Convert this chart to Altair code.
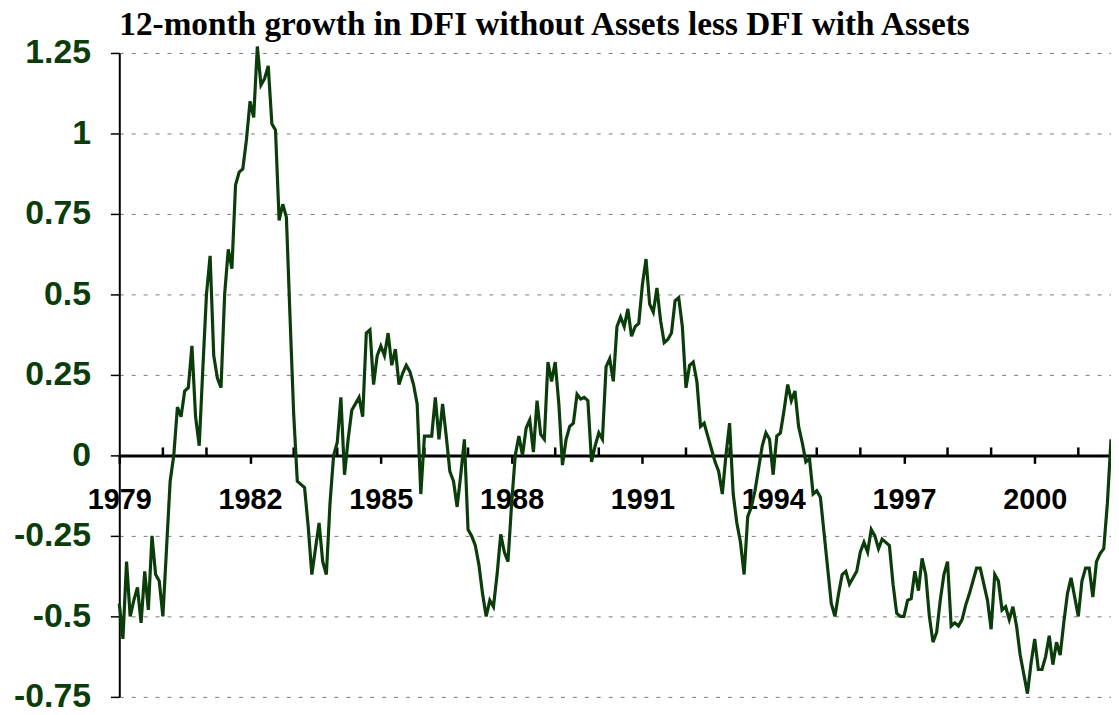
import altair as alt
import pandas as pd

# Monthly values (12-month growth difference)
y1979 = [-0.46, -0.57, -0.33, -0.50, -0.45, -0.41, -0.52, -0.36, -0.48, -0.25, -0.37, -0.39]
y1980 = [-0.50, -0.29, -0.08, 0.00, 0.15, 0.12, 0.20, 0.21, 0.34, 0.12, 0.03, 0.27]
y1981 = [0.50, 0.62, 0.31, 0.24, 0.21, 0.50, 0.64, 0.58, 0.84, 0.88, 0.89, 0.98]
y1982 = [1.10, 1.05, 1.27, 1.15, 1.17, 1.21, 1.03, 1.01, 0.73, 0.78, 0.74, 0.43]
y1983 = [0.13, -0.08, -0.09, -0.10, -0.22, -0.37, -0.29, -0.21, -0.33, -0.37, -0.15, 0.00]
y1984 = [0.04, 0.18, -0.06, 0.05, 0.14, 0.16, 0.18, 0.12, 0.38, 0.39, 0.22, 0.31]
y1985 = [0.34, 0.31, 0.38, 0.28, 0.33, 0.22, 0.255, 0.28, 0.26, 0.22, 0.16, -0.12]
y1986 = [0.06, 0.06, 0.06, 0.18, 0.05, 0.16, 0.06, -0.05, -0.08, -0.16, -0.06, 0.05]
y1987 = [-0.23, -0.25, -0.28, -0.34, -0.43, -0.50, -0.45, -0.47, -0.37, -0.245, -0.30, -0.33]
y1988 = [-0.15, 0.00, 0.06, 0.00, 0.085, 0.11, 0.01, 0.17, 0.065, 0.05, 0.29, 0.23]
y1989 = [0.29, 0.16, -0.03, 0.05, 0.09, 0.10, 0.19, 0.175, 0.18, 0.17, -0.02, 0.03]
y1990 = [0.07, 0.05, 0.275, 0.30, 0.23, 0.40, 0.43, 0.40, 0.455, 0.37, 0.40, 0.41]
y1991 = [0.53, 0.61, 0.47, 0.445, 0.52, 0.42, 0.35, 0.36, 0.38, 0.48, 0.49, 0.40]
y1992 = [0.21, 0.28, 0.29, 0.23, 0.09, 0.10, 0.06, 0.02, -0.02, -0.05, -0.12, 0.00]
y1993 = [0.10, -0.12, -0.21, -0.27, -0.37, -0.19, -0.16, -0.11, -0.04, 0.03, 0.07, 0.05]
y1994 = [-0.06, 0.06, 0.07, 0.14, 0.22, 0.17, 0.20, 0.09, 0.04, -0.02, -0.01, -0.12]
y1995 = [-0.11, -0.13, -0.24, -0.35, -0.46, -0.50, -0.43, -0.37, -0.36, -0.40, -0.38, -0.36]
y1996 = [-0.30, -0.27, -0.30, -0.23, -0.25, -0.29, -0.26, -0.27, -0.28, -0.40, -0.49, -0.50]
y1997 = [-0.50, -0.45, -0.445, -0.36, -0.42, -0.32, -0.37, -0.50, -0.58, -0.55, -0.45, -0.37]
y1998 = [-0.33, -0.53, -0.52, -0.53, -0.51, -0.465, -0.43, -0.39, -0.35, -0.35, -0.40, -0.45]
y1999 = [-0.54, -0.37, -0.39, -0.48, -0.47, -0.51, -0.47, -0.53, -0.62, -0.68, -0.74, -0.645]
y2000 = [-0.57, -0.665, -0.665, -0.625, -0.56, -0.65, -0.58, -0.62, -0.52, -0.43, -0.38, -0.44]
y2001 = [-0.50, -0.39, -0.35, -0.35, -0.44, -0.33, -0.305, -0.29, -0.15, 0.05]

years = list(range(1979, 2002))
series = [y1979, y1980, y1981, y1982, y1983, y1984, y1985, y1986, y1987, y1988,
          y1989, y1990, y1991, y1992, y1993, y1994, y1995, y1996, y1997, y1998,
          y1999, y2000, y2001]

label_years = [1979, 1982, 1985, 1988, 1991, 1994, 1997, 2000]
minor_years = [y for y in range(1980, 2002) if y not in label_years]
y_ticks = [-0.75, -0.5, -0.25, 0, 0.25, 0.5, 0.75, 1, 1.25]

TITLE = "12-month growth in DFI without Assets less DFI with Assets"

rows = []
for yr, arr in zip(years, series):
    for i, v in enumerate(arr):
        rows.append({"t": yr + i / 12.0, "v": v})
df = pd.DataFrame(rows)
ticks_df = pd.DataFrame({"t": minor_years, "v": [0] * len(minor_years)})

GREEN = "#0b3d0b"
W, H = 998, 648
x_scale = alt.Scale(domain=[1979, 2001.75], nice=False, zero=False)
y_scale = alt.Scale(domain=[-0.75, 1.25], nice=False, zero=False)

x_enc = alt.X("t:Q", scale=x_scale,
              axis=alt.Axis(orient="bottom", offset=-243, values=label_years,
                            labelExpr="'' + datum.value", tickSize=8, tickWidth=2.5,
                            tickColor="black", domainColor="black", domainWidth=3,
                            labelFont="Liberation Sans", labelFontSize=29,
                            labelFontWeight="bold", labelColor="black",
                            labelFlush=False, labelBound=False, labelOverlap=False,
                            labelPadding=22, grid=False, title=None))
y_enc = alt.Y("v:Q", scale=y_scale,
              axis=alt.Axis(values=y_ticks, labelExpr="'' + datum.value",
                            tickSize=9, tickWidth=1.5, tickColor="black",
                            domainColor="black", domainWidth=2,
                            grid=True, gridDash=[4, 8], gridColor="#7a7a7a", gridWidth=1,
                            labelFont="Liberation Sans", labelFontSize=34,
                            labelFontWeight="bold", labelColor=GREEN,
                            labelFlush=False, labelOverlap=False,
                            labelPadding=20, title=None))

minor = alt.Chart(ticks_df).mark_rule(
    color="black", strokeWidth=2.5, y2Offset=-8
).encode(x=x_enc, y=y_enc, y2="v:Q")

line = alt.Chart(df).mark_line(color=GREEN, strokeWidth=3.2, clip=False).encode(
    x=x_enc, y=y_enc
)

chart = alt.layer(minor, line).properties(
    width=W, height=H,
    padding={"left": 112, "top": 43, "right": 0, "bottom": 14},
    autosize=alt.AutoSizeParams(type="none"),
    background="white",
    title=alt.Title(TITLE, anchor="start", frame="group", font="Liberation Serif",
                    fontSize=33.5, fontWeight="bold", color="black", offset=6, dy=12),
).configure_view(stroke=None)

chart.save("out.html", embed_options={"renderer": "svg", "actions": False})
